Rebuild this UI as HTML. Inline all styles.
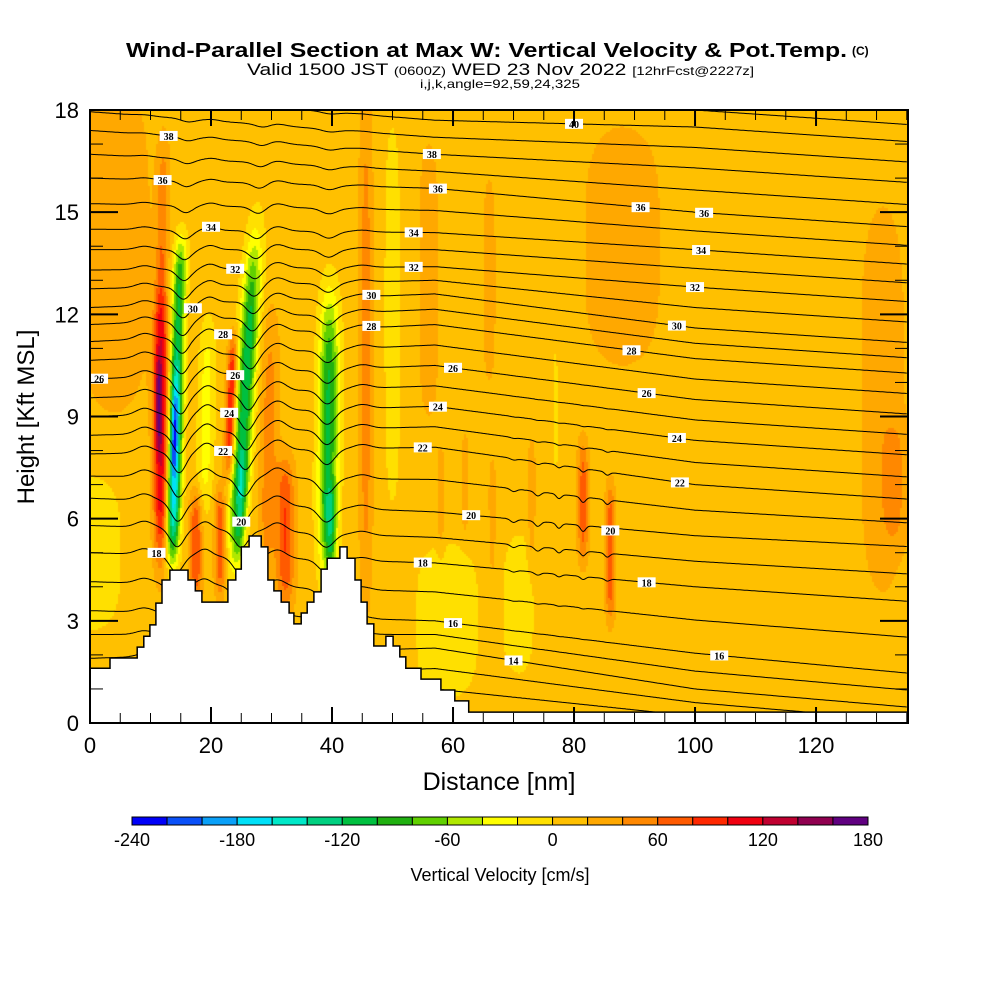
<!DOCTYPE html>
<html><head><meta charset="utf-8">
<style>
body{margin:0;background:#fff;width:1000px;height:1000px;overflow:hidden;position:relative;font-family:"Liberation Sans",sans-serif}
#fld{position:absolute;left:90px;top:110px}
#ov{position:absolute;left:0;top:0}
</style></head><body>
<canvas id="fld" width="818" height="602"></canvas>
<svg id="ov" width="1000" height="1000" xmlns="http://www.w3.org/2000/svg">
<defs><clipPath id="pc"><rect x="90" y="110" width="818" height="613"/></clipPath></defs>
<g id="lines" clip-path="url(#pc)"></g>
<g id="lbls"></g>
<path id="terrain" fill="#fff" stroke="#000" stroke-width="1.5"/>
<rect x="90" y="110" width="818" height="613" fill="none" stroke="#000" stroke-width="2"/>
<g id="ticks" stroke="#000"></g>
<g id="xl" font-size="22" text-anchor="middle"></g>
<g id="yl" font-size="22" text-anchor="end"></g>
<text x="499" y="790" font-size="25" text-anchor="middle">Distance [nm]</text>
<text transform="translate(34,417) rotate(-90)" font-size="24" text-anchor="middle">Height [Kft MSL]</text>
<text x="126" y="57" font-size="20" font-weight="bold" textLength="721" lengthAdjust="spacingAndGlyphs">Wind-Parallel Section at Max W: Vertical Velocity &amp; Pot.Temp.</text>
<text x="852" y="55" font-size="12" font-weight="bold">(C)</text>
<text x="247" y="75" font-size="17" textLength="507" lengthAdjust="spacingAndGlyphs">Valid 1500 JST <tspan font-size="12">(0600Z)</tspan> WED 23 Nov 2022 <tspan font-size="12">[12hrFcst@2227z]</tspan></text>
<text x="420" y="88" font-size="12" textLength="160" lengthAdjust="spacingAndGlyphs">i,j,k,angle=92,59,24,325</text>
<g id="cbar"></g>
<g id="cbl" font-size="18" text-anchor="middle"></g>
<text x="500" y="881" font-size="18" text-anchor="middle">Vertical Velocity [cm/s]</text>
</svg>
<script>
// ---- data ----
const cbColors=["#0000f8","#0a50f8","#0aa0f8","#00e0f8","#00e8c8","#00d080","#00c040","#20b010","#60d000","#b0e800","#ffff00","#ffe000","#ffc000","#ffa800","#ff8800","#ff5a00","#ff2800","#f00010","#c00030","#900050","#600080"];
const cbTicks=[-240,-180,-120,-60,0,60,120,180];
const xTicks=[0,20,40,60,80,100,120];
const yTicks=[0,3,6,9,12,15,18];
// velocity features: center x (nm), center z (kft), half-width, half-height, slant, value (cm/s)
const fX=[11.7,11.3,11.9,14.0,13.9,14.6,17.5,19.2,21.5,23.3,25.6,24.9,29.5,32.3,39.4,39.8,45.6,50,0,4,66,56,59,71,77,81.5,86,88,131,133,58,62,66.5,73];
const fZ=[8.5,9.3,14,7.6,8.5,12,5.2,9.0,5.3,9.3,9.5,6.3,8.0,5.6,8.5,5.6,11,12,5,14,13,13,3,3.5,12,6.5,5,14,9.5,7,6.5,7,6,6.5];
const fW=[1.2,0.6,1.0,1.1,0.5,1.1,1.0,1.3,0.9,0.8,1.5,0.9,1.5,1.5,1.6,0.9,1.1,1.5,6,6,1.0,2.5,6,3.5,1.0,0.9,0.8,8,4,2,0.6,0.6,0.6,0.6];
const fH=[3.8,1.4,3,2.8,1.2,2.2,1.6,2.8,1.6,2.0,4.6,1.5,4.0,2.2,4.0,1.3,7.5,6,2.5,5,3,5,2.5,2.5,7,1.8,2.0,4,6,1.8,1.5,1.5,1.8,1.8];
const fS=[0,0,0.1,0.15,0.15,0.2,0,0.1,0,0.2,0.35,0.3,0.1,0,0.05,0,0,0,0,0,0,0,0,0,0,0,0,0,0,0,0,0,0,0];
const fV=[110,55,45,-185,-60,-115,70,-40,65,100,-125,-50,40,70,-115,-55,40,-20,-20,25,25,15,-20,-15,-12,60,65,18,22,25,25,25,25,30];
const bgW=10;
// isentropes: heights (kft) of even levels at control columns
const colX=[0,57,100,133];
const thLevels=[12,14,16,18,20,22,24,26,28,30,32,34,36,38,40,42];
const thZ0=[0.5,1.9,3.3,5.0,6.6,7.9,9.0,10.1,11.2,12.2,13.3,14.5,16.0,17.4,18.5,19.6];
const thZ57=[1.0,2.2,3.0,4.7,6.2,8.1,9.3,10.5,11.7,12.6,13.4,14.4,15.7,16.7,17.7,18.7];
const thZ100=[0.2,1.0,2.05,4.0,5.5,7.0,8.3,9.5,10.7,11.6,12.8,13.9,15.0,16.3,17.5,18.5];
const thZ133=[-0.3,0.5,1.5,3.6,5.2,6.6,7.9,9.1,10.3,11.2,12.4,13.5,14.6,15.9,17.1,18.1];
// mountain-wave displacement of isentropes
const wvX=[9,14.3,19,24.8,31,39,45,70,74,77.5,81.5,85.5];
const wvA=[0.2,-0.6,0.25,-0.55,0.3,-0.45,0.12,-0.1,-0.15,-0.15,-0.18,-0.15];
const wvW=[2,1.6,1.6,1.6,2,1.8,2,0.7,0.7,0.6,0.6,0.6];
const wvS=[0,0.15,0.1,0.3,0,0.05,0,0,0,0,0,0];
const wvZc=[8,8,8,8,8,8,8,6,6,6,6,6];
const wvZh=[7,7,7,7,7,7,7,2,2,2,2,2];
// contour labels: level, x (nm)
const lbTh=[38,36,34,32,30,28,26,24,22,20,18,26,40,38,36,34,32,30,28,26,24,22,20,18,16,14,36,36,34,32,30,28,26,24,22,20,18,16];
const lbX=[13,12,20,24,17,22,24,23,22,25,11,1.5,80,56.5,57.5,53.5,53.5,46.5,46.5,60,57.5,55,63,55,60,70,91,101.5,101,100,97,89.5,92,97,97.5,86,92,104];
// terrain steps: start x (nm), height (kft)
const trX=[0,3.3,7.8,8.9,9.9,10.9,11.9,13.2,16.2,17.4,18.5,22.8,24.1,25.0,26.3,28.3,29.4,30.4,31.6,32.9,33.7,34.9,35.9,37.0,38.2,39.2,41.3,42.5,43.8,44.8,45.8,46.9,48.9,50.1,51.2,52.2,54.7,58.0,60.3];
const trZ=[1.61,1.91,2.23,2.55,2.88,3.52,4.2,4.49,4.2,3.88,3.55,4.2,4.52,5.17,5.49,5.17,4.2,3.88,3.55,3.23,2.91,3.23,3.55,3.85,4.52,4.84,5.17,4.84,4.2,3.55,2.91,2.26,2.55,2.26,1.94,1.61,1.29,0.97,0.65];
const trFloor=0.32;

// ---- axes ----
const X0=90,X1=908,Y0=723,Y1=110,XMAX=135.2,ZMAX=18;
const sx=x=>X0+x*(X1-X0)/XMAX;
const sy=z=>Y0-z*(Y0-Y1)/ZMAX;
const ix=px=>(px-X0)*XMAX/(X1-X0);
const iz=py=>(Y0-py)*ZMAX/(Y0-Y1);
const NS="http://www.w3.org/2000/svg";
function mk(tag,parent,attrs){const e=document.createElementNS(NS,tag);for(const k in attrs)e.setAttribute(k,attrs[k]);parent.appendChild(e);return e;}

// ---- field ----
function wAt(x,z){let w=bgW;for(let i=0;i<fX.length;i++){const dx=(x-(fX[i]+fS[i]*(z-fZ[i])))/fW[i];const dz=(z-fZ[i])/fH[i];const d=dx*dx+dz*dz*dz*dz;if(d<12)w+=fV[i]*Math.exp(-d);}return w;}
function colorOf(w){let k=Math.floor((w+240)/20);k=Math.max(0,Math.min(20,k));return cbColors[k];}
const ctx=document.getElementById('fld').getContext('2d');
for(let py=0;py<602;py+=2){for(let px=0;px<818;px+=2){const x=ix(px+90+1),z=iz(py+110+1);ctx.fillStyle=colorOf(wAt(x,z));ctx.fillRect(px,py,2,2);}}

// ---- isentropes ----
function baseZ(i,x){const cols=[thZ0[i],thZ57[i],thZ100[i],thZ133[i]];let j=0;while(j<colX.length-2&&x>colX[j+1])j++;const t=(x-colX[j])/(colX[j+1]-colX[j]);return cols[j]+(cols[j+1]-cols[j])*t;}
function levelBase(th,x){const i=Math.floor((th-12)/2);const f=(th-12)/2-i;if(f===0)return baseZ(i,x);return baseZ(i,x)*(1-f)+baseZ(i+1,x)*f;}
function zOf(th,x){const b=levelBase(th,x);let d=0;for(let k=0;k<wvX.length;k++){const dx=(x-wvX[k]-wvS[k]*(b-5))/wvW[k];const dz=(b-wvZc[k])/wvZh[k];d+=wvA[k]*Math.exp(-dx*dx-dz*dz);}return b+d;}
const lg=document.getElementById('lines');
for(let th=12;th<=41;th++){let d='';for(let x=0;x<=XMAX;x+=0.2){const z=Math.min(Math.max(zOf(th,x),0),ZMAX+0.5);d+=(d?'L':'M')+sx(x).toFixed(1)+' '+sy(z).toFixed(1);}
const p=mk('path',lg,{d:d,fill:'none',stroke:'#000','stroke-width':'1'});

}
const lb=document.getElementById('lbls');
for(let i=0;i<lbTh.length;i++){const cx=sx(lbX[i]),cy=sy(zOf(lbTh[i],lbX[i]));
const r=mk('rect',lb,{x:cx-9,y:cy-5,width:18,height:10,fill:'#fff'});


const t=mk('text',lb,{x:cx,y:cy+4,'font-size':'10','font-weight':'bold','text-anchor':'middle','font-family':'Liberation Serif, serif'});t.textContent=lbTh[i];

}

// ---- terrain ----
let td='M'+sx(0)+' '+sy(0);
for(let i=0;i<trX.length;i++){const xe=i+1<trX.length?trX[i+1]:trX[i]+2.3;td+='L'+sx(trX[i]).toFixed(1)+' '+sy(trZ[i]).toFixed(1)+'L'+sx(xe).toFixed(1)+' '+sy(trZ[i]).toFixed(1);}
td+='L'+sx(trX[trX.length-1]+2.3).toFixed(1)+' '+sy(trFloor).toFixed(1)+'L'+X1+' '+sy(trFloor).toFixed(1)+'L'+X1+' '+Y0+'Z';
document.getElementById('terrain').setAttribute('d',td);

// ---- ticks & labels ----
const tg=document.getElementById('ticks');
for(let x=0;x<=XMAX;x+=5){const big=x%20===0;const L=big?16:10;mk('line',tg,{x1:sx(x),x2:sx(x),y1:Y0,y2:Y0-L,'stroke-width':big?2:1});mk('line',tg,{x1:sx(x),x2:sx(x),y1:Y1,y2:Y1+L,'stroke-width':big?2:1});}
for(let z=0;z<=ZMAX;z+=1){const big=z%3===0;const L=big?28:13;mk('line',tg,{x1:X0,x2:X0+L,y1:sy(z),y2:sy(z),'stroke-width':big?2:1});mk('line',tg,{x1:X1,x2:X1-L,y1:sy(z),y2:sy(z),'stroke-width':big?2:1});}
const xl=document.getElementById('xl');
xTicks.forEach(v=>{const t=mk('text',xl,{x:sx(v),y:753});t.textContent=v;

});
const yl=document.getElementById('yl');
yTicks.forEach(v=>{const t=mk('text',yl,{x:79,y:sy(v)+8});t.textContent=v;

});

// ---- colorbar ----
const cb=document.getElementById('cbar');const CB0=132,CB1=868,bw=(CB1-CB0)/cbColors.length;
cbColors.forEach((c,i)=>{const r=mk('rect',cb,{x:CB0+i*bw,y:817,width:bw,height:8,fill:c,stroke:'#000','stroke-width':'1'});

});
const cbl=document.getElementById('cbl');
cbTicks.forEach(v=>{const t=mk('text',cbl,{x:CB0+(v+240)/20*bw,y:846});t.textContent=v;

});
</script>
</body></html>
